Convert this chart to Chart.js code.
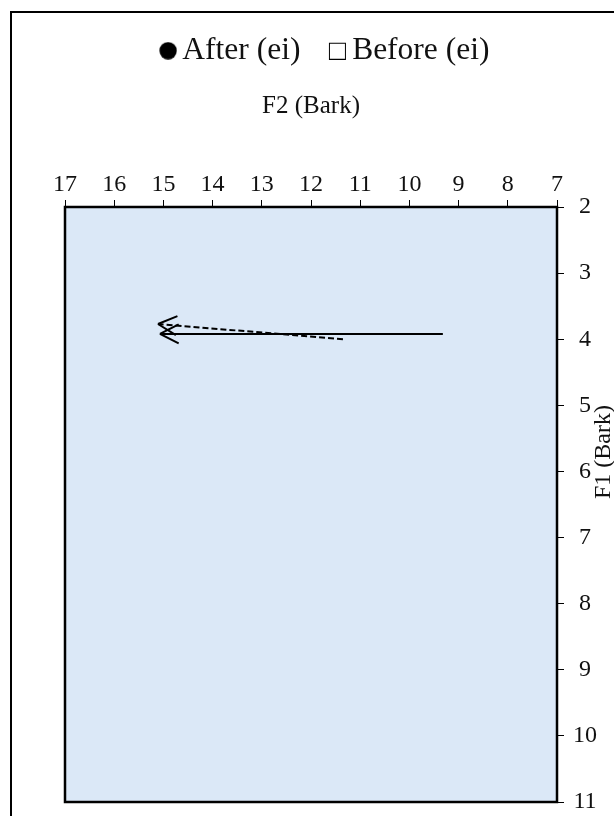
<!DOCTYPE html>
<html>
<head>
<meta charset="utf-8">
<script src="https://cdn.jsdelivr.net/npm/chart.js@4.4.1/dist/chart.umd.min.js"></script>
<style>
  html, body { margin: 0; padding: 0; background: #fff; }
  #wrap { width: 614px; height: 816px; }
</style>
</head>
<body>
<div id="wrap"><canvas id="chart" width="614" height="816"></canvas></div>
<script>
// --- данные (F2 / F1 в Bark) ---
const seriesNames = ['After (ei)', 'Before (ei)'];
const afterF2 = [9.32, 15.07];
const afterF1 = [3.92, 3.92];
const beforeF2 = [11.35, 15.11];
const beforeF1 = [4.00, 3.77];
const f2Range = [7, 17];
const f1Range = [2, 11];
const xTitle = 'F2 (Bark)';
const yTitle = 'F1 (Bark)';

const FONT = '"Liberation Serif", "Times New Roman", serif';

// маркеры легенды: ● и □ (смещены вправо, ближе к тексту)
function makeMarker(kind) {
  const c = document.createElement('canvas');
  c.width = 22; c.height = 18;
  const g = c.getContext('2d');
  if (kind === 'dot') {
    g.fillStyle = '#000';
    g.beginPath(); g.arc(13, 9, 8.7, 0, Math.PI * 2); g.fill();
  } else {
    g.strokeStyle = '#000'; g.lineWidth = 1;
    g.strokeRect(4.5, 1.5, 16, 16);
  }
  return c;
}
const markers = [makeMarker('dot'), makeMarker('box')];

const toPoints = (xs, ys) => xs.map((x, i) => ({ x: x, y: ys[i] }));

// фон, рамки, подпись оси Y
const framePlugin = {
  id: 'frame',
  beforeDraw(chart) {
    const { ctx, chartArea: a } = chart;
    ctx.save();
    ctx.fillStyle = '#fff';
    ctx.fillRect(0, 0, chart.width, chart.height);
    ctx.strokeStyle = '#000';
    ctx.lineWidth = 2;
    ctx.strokeRect(11, 12, chart.width + 20, chart.height + 20);
    ctx.fillStyle = '#dbe8f7';
    ctx.fillRect(a.left, a.top, a.right - a.left, a.bottom - a.top);
    ctx.restore();
  },
  afterDraw(chart) {
    const { ctx, chartArea: a } = chart;
    ctx.save();
    ctx.strokeStyle = '#000';
    ctx.lineWidth = 2.5;
    ctx.strokeRect(a.left, a.top, a.right - a.left, a.bottom - a.top);
    // F1 (Bark) — повернутая подпись, как в оригинале
    ctx.translate(604, 452);
    ctx.rotate(-Math.PI / 2);
    ctx.fillStyle = '#111';
    ctx.font = '24px ' + FONT;
    ctx.textAlign = 'center';
    ctx.textBaseline = 'middle';
    ctx.fillText(yTitle, 0, 0);
    ctx.restore();
  }
};

// наконечники стрелок на последней точке каждой траектории
const arrowPlugin = {
  id: 'arrows',
  afterDatasetsDraw(chart) {
    const ctx = chart.ctx;
    chart.data.datasets.forEach((ds, i) => {
      const pts = chart.getDatasetMeta(i).data;
      if (pts.length < 2) return;
      const a = pts[pts.length - 2], b = pts[pts.length - 1];
      const ang = Math.atan2(b.y - a.y, b.x - a.x);
      ctx.save();
      ctx.strokeStyle = '#000';
      ctx.lineWidth = 2;
      ctx.setLineDash([]);
      ctx.beginPath();
      [1, -1].forEach(s => {
        ctx.moveTo(b.x, b.y);
        ctx.lineTo(b.x - 21 * Math.cos(ang + s * 0.47), b.y - 21 * Math.sin(ang + s * 0.47));
      });
      ctx.stroke();
      ctx.restore();
    });
  }
};

new Chart(document.getElementById('chart'), {
  type: 'scatter',
  data: {
    datasets: [
      {
        label: seriesNames[0],
        data: toPoints(afterF2, afterF1),
        showLine: true,
        borderColor: '#000',
        borderWidth: 2,
        pointRadius: 0,
        fill: false
      },
      {
        label: seriesNames[1],
        data: toPoints(beforeF2, beforeF1),
        showLine: true,
        borderColor: '#000',
        borderWidth: 2,
        borderDash: [6, 3],
        pointRadius: 0,
        fill: false
      }
    ]
  },
  options: {
    responsive: false,
    animation: false,
    devicePixelRatio: 1,
    layout: { padding: { top: 0, left: 41, right: 0, bottom: 14 } },
    plugins: {
      tooltip: { enabled: false },
      legend: {
        position: 'top',
        labels: {
          usePointStyle: true,
          boxWidth: 1,
          padding: 35,
          color: '#111',
          font: { family: FONT, size: 31.5 },
          generateLabels: () => seriesNames.map((t, i) => ({
            text: t,
            pointStyle: markers[i],
            fillStyle: '#000',
            strokeStyle: '#000',
            lineWidth: 0,
            hidden: false,
            datasetIndex: i,
            fontColor: '#111'
          }))
        }
      }
    },
    scales: {
      x: {
        type: 'linear',
        position: 'top',
        reverse: true,
        min: f2Range[0],
        max: f2Range[1],
        ticks: { stepSize: 1, color: '#111', font: { family: FONT, size: 24 }, padding: 1, maxRotation: 0 },
        grid: { drawOnChartArea: false, tickLength: 7, color: '#000', lineWidth: 1 },
        border: { display: false },
        title: { display: true, text: xTitle, color: '#111', font: { family: FONT, size: 25 }, padding: { top: 15, bottom: 0 } },
        afterFit(s) {
          s.height = 207 - s.chart.legend.height;
          s.paddingLeft = 0;
          s.paddingRight = 0;
        }
      },
      y: {
        type: 'linear',
        position: 'right',
        reverse: true,
        min: f1Range[0],
        max: f1Range[1],
        ticks: { stepSize: 1, color: '#111', font: { family: FONT, size: 24 }, padding: 9, crossAlign: 'center' },
        grid: { drawOnChartArea: false, tickLength: 7, color: '#000', lineWidth: 1 },
        border: { display: false },
        afterFit(s) {
          s.width = 57;
          s.paddingTop = 0;
          s.paddingBottom = 0;
        }
      },
      // пустая полоса слева, чтобы легенда легла по центру как в оригинале
      gutter: {
        type: 'linear',
        position: 'left',
        display: true,
        ticks: { display: false },
        grid: { display: false },
        border: { display: false },
        afterFit(s) {
          s.width = 24;
          s.paddingTop = 0;
          s.paddingBottom = 0;
        }
      }
    }
  },
  plugins: [framePlugin, arrowPlugin]
});
</script>
</body>
</html>
